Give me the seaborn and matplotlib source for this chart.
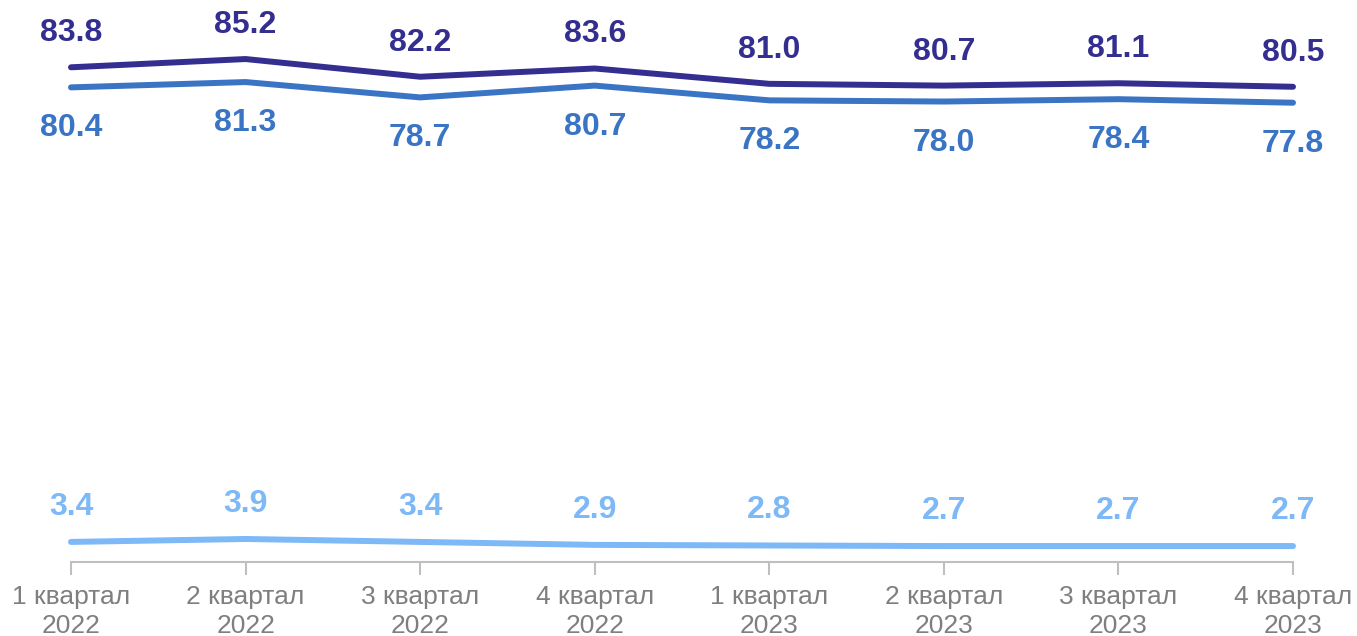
import pandas as pd
import numpy as np
import seaborn as sns
import matplotlib.pyplot as plt

quarters = ["1 квартал\n2022", "2 квартал\n2022", "3 квартал\n2022", "4 квартал\n2022",
            "1 квартал\n2023", "2 квартал\n2023", "3 квартал\n2023", "4 квартал\n2023"]
top = [83.8, 85.2, 82.2, 83.6, 81.0, 80.7, 81.1, 80.5]
mid = [80.4, 81.3, 78.7, 80.7, 78.2, 78.0, 78.4, 77.8]
low = [3.4, 3.9, 3.4, 2.9, 2.8, 2.7, 2.7, 2.7]

colors = {"top": "#332e8f", "mid": "#3a74c4", "low": "#7db8f7"}
offsets = {"top": 34, "mid": -41, "low": 35}

df = pd.DataFrame({"x": list(range(8)) * 3,
                   "value": top + mid + low,
                   "series": ["top"] * 8 + ["mid"] * 8 + ["low"] * 8})

sns.set_style("white")
plt.rcParams['font.family'] = ['Liberation Sans', 'DejaVu Sans']

fig = plt.figure(figsize=(13.57, 6.36), dpi=100)
ax = fig.add_axes([71 / 1357, 74 / 636, (1293 - 71) / 1357, 562 / 636])
sns.lineplot(data=df, x="x", y="value", hue="series", palette=colors,
             linewidth=4.3, legend=False, ax=ax, clip_on=False)

for name, vals in [("top", top), ("mid", mid), ("low", low)]:
    for i, v in enumerate(vals):
        ax.annotate(f"{v:.1f}", (i, v), xytext=(0, offsets[name] * 0.72),
                    textcoords="offset points", ha="center", va="center",
                    fontsize=23, fontweight="bold", color=colors[name])

ax.set_xlim(0, 7)
ax.set_ylim(0, 95.2)
ax.set_xticks(range(8))
ax.set_xticklabels(quarters, fontsize=19, color="#7f7f7f", linespacing=1.3)
ax.set_yticks([])
ax.set_xlabel("")
ax.set_ylabel("")
for s in ["top", "right", "left"]:
    ax.spines[s].set_visible(False)
ax.spines["bottom"].set_color("#bfbfbf")
ax.spines["bottom"].set_linewidth(1.5)
ax.tick_params(axis="x", bottom=True, length=9.4, width=1.5, color="#bfbfbf", pad=7)

fig.savefig("out.png", dpi=100)
